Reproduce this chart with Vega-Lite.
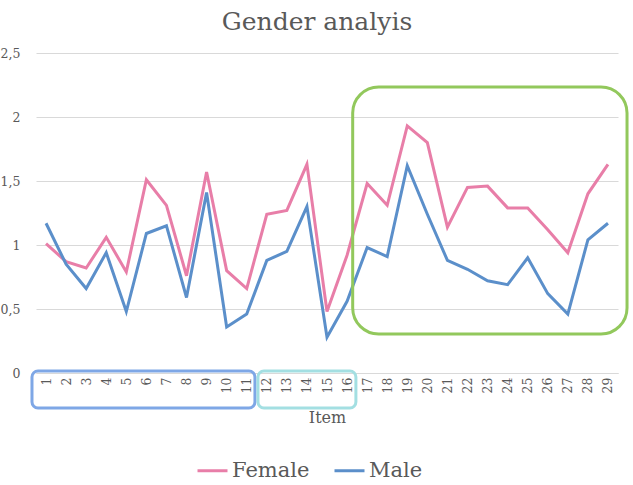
{
  "$schema": "https://vega.github.io/schema/vega-lite/v6.json",
  "width": 582,
  "height": 320,
  "autosize": "none",
  "padding": {"left": 36, "top": 53, "right": 15, "bottom": 112},
  "background": "white",
  "title": {
    "text": "Gender analyis",
    "font": "DejaVu Serif",
    "fontSize": 25,
    "fontWeight": "normal",
    "color": "#595959",
    "anchor": "middle",
    "dx": -10,
    "offset": 12
  },
  "config": {
    "view": {"stroke": null},
    "font": "DejaVu Serif"
  },
  "layer": [
    {
      "data": {
        "values": [
          {"item": 1, "gender": "Female", "value": 1.01},
          {"item": 2, "gender": "Female", "value": 0.87},
          {"item": 3, "gender": "Female", "value": 0.82},
          {"item": 4, "gender": "Female", "value": 1.06},
          {"item": 5, "gender": "Female", "value": 0.79},
          {"item": 6, "gender": "Female", "value": 1.51},
          {"item": 7, "gender": "Female", "value": 1.31},
          {"item": 8, "gender": "Female", "value": 0.76},
          {"item": 9, "gender": "Female", "value": 1.57},
          {"item": 10, "gender": "Female", "value": 0.8},
          {"item": 11, "gender": "Female", "value": 0.66},
          {"item": 12, "gender": "Female", "value": 1.24},
          {"item": 13, "gender": "Female", "value": 1.27},
          {"item": 14, "gender": "Female", "value": 1.63},
          {"item": 15, "gender": "Female", "value": 0.48},
          {"item": 16, "gender": "Female", "value": 0.92},
          {"item": 17, "gender": "Female", "value": 1.48},
          {"item": 18, "gender": "Female", "value": 1.31},
          {"item": 19, "gender": "Female", "value": 1.93},
          {"item": 20, "gender": "Female", "value": 1.8},
          {"item": 21, "gender": "Female", "value": 1.14},
          {"item": 22, "gender": "Female", "value": 1.45},
          {"item": 23, "gender": "Female", "value": 1.46},
          {"item": 24, "gender": "Female", "value": 1.29},
          {"item": 25, "gender": "Female", "value": 1.29},
          {"item": 26, "gender": "Female", "value": 1.12},
          {"item": 27, "gender": "Female", "value": 0.94},
          {"item": 28, "gender": "Female", "value": 1.4},
          {"item": 29, "gender": "Female", "value": 1.63},
          {"item": 1, "gender": "Male", "value": 1.17},
          {"item": 2, "gender": "Male", "value": 0.85},
          {"item": 3, "gender": "Male", "value": 0.66},
          {"item": 4, "gender": "Male", "value": 0.94},
          {"item": 5, "gender": "Male", "value": 0.48},
          {"item": 6, "gender": "Male", "value": 1.09},
          {"item": 7, "gender": "Male", "value": 1.15},
          {"item": 8, "gender": "Male", "value": 0.59},
          {"item": 9, "gender": "Male", "value": 1.41},
          {"item": 10, "gender": "Male", "value": 0.36},
          {"item": 11, "gender": "Male", "value": 0.46},
          {"item": 12, "gender": "Male", "value": 0.88},
          {"item": 13, "gender": "Male", "value": 0.95},
          {"item": 14, "gender": "Male", "value": 1.3},
          {"item": 15, "gender": "Male", "value": 0.28},
          {"item": 16, "gender": "Male", "value": 0.56},
          {"item": 17, "gender": "Male", "value": 0.98},
          {"item": 18, "gender": "Male", "value": 0.91},
          {"item": 19, "gender": "Male", "value": 1.62},
          {"item": 20, "gender": "Male", "value": 1.24},
          {"item": 21, "gender": "Male", "value": 0.88},
          {"item": 22, "gender": "Male", "value": 0.81},
          {"item": 23, "gender": "Male", "value": 0.72},
          {"item": 24, "gender": "Male", "value": 0.69},
          {"item": 25, "gender": "Male", "value": 0.9},
          {"item": 26, "gender": "Male", "value": 0.62},
          {"item": 27, "gender": "Male", "value": 0.46},
          {"item": 28, "gender": "Male", "value": 1.04},
          {"item": 29, "gender": "Male", "value": 1.17}
        ]
      },
      "mark": {"type": "line", "strokeWidth": 3, "strokeJoin": "miter", "clip": false},
      "encoding": {
        "x": {
          "field": "item",
          "type": "quantitative",
          "scale": {"domain": [0.5, 29.5], "nice": false, "zero": false},
          "axis": {
            "title": "Item",
            "titleFont": "DejaVu Serif",
            "titleFontSize": 16,
            "titleFontWeight": "normal",
            "titleColor": "#595959",
            "titleY": 44,
            "titleBaseline": "middle",
            "values": [1,2,3,4,5,6,7,8,9,10,11,12,13,14,15,16,17,18,19,20,21,22,23,24,25,26,27,28,29],
            "tickCount": 40,
            "format": "d",
            "labelOverlap": false,
            "labelAngle": -90,
            "labelAlign": "right",
            "labelBaseline": "middle",
            "labelFont": "DejaVu Serif",
            "labelFontSize": 12.5,
            "labelColor": "#595959",
            "labelPadding": 4,
            "ticks": false,
            "grid": false,
            "domainColor": "#d9d9d9",
            "domainWidth": 1
          }
        },
        "y": {
          "field": "value",
          "type": "quantitative",
          "scale": {"domain": [0, 2.5], "nice": false},
          "axis": {
            "title": null,
            "values": [0, 0.5, 1, 1.5, 2, 2.5],
            "labelExpr": "replace(format(datum.value, ''), '.', ',')",
            "labelFont": "DejaVu Serif",
            "labelFontSize": 12.5,
            "labelColor": "#595959",
            "labelPadding": 16,
            "ticks": false,
            "domain": false,
            "grid": true,
            "gridColor": "#d9d9d9",
            "gridWidth": 1
          }
        },
        "color": {
          "field": "gender",
          "type": "nominal",
          "scale": {"domain": ["Female", "Male"], "range": ["#e87ea8", "#5b8fca"]},
          "legend": {
            "title": null,
            "orient": "none",
            "legendX": 160,
            "legendY": 401,
            "direction": "horizontal",
            "symbolType": "stroke",
            "symbolSize": 900,
            "symbolStrokeWidth": 3,
            "labelFont": "DejaVu Serif",
            "labelFontSize": 21,
            "labelColor": "#595959",
            "labelOffset": 3,
            "columnPadding": 18
          }
        }
      }
    },
    {
      "data": {"values": [{"x": 16.28, "x2": 29.95, "y": 2.234, "y2": 0.305}]},
      "mark": {"type": "rect", "fill": null, "stroke": "#92c85c", "strokeWidth": 3, "cornerRadius": 26, "clip": false},
      "encoding": {
        "x": {"field": "x", "type": "quantitative"},
        "x2": {"field": "x2"},
        "y": {"field": "y", "type": "quantitative"},
        "y2": {"field": "y2"}
      }
    },
    {
      "data": {"values": [{"x": 0.3, "x2": 11.41, "y": 0.016, "y2": -0.273}]},
      "mark": {"type": "rect", "fill": null, "stroke": "#7ea7e6", "strokeWidth": 3, "cornerRadius": 6, "clip": false},
      "encoding": {
        "x": {"field": "x", "type": "quantitative"},
        "x2": {"field": "x2"},
        "y": {"field": "y", "type": "quantitative"},
        "y2": {"field": "y2"}
      }
    },
    {
      "data": {"values": [{"x": 11.56, "x2": 16.44, "y": 0.016, "y2": -0.273}]},
      "mark": {"type": "rect", "fill": null, "stroke": "#a3dfe2", "strokeWidth": 3, "cornerRadius": 6, "clip": false},
      "encoding": {
        "x": {"field": "x", "type": "quantitative"},
        "x2": {"field": "x2"},
        "y": {"field": "y", "type": "quantitative"},
        "y2": {"field": "y2"}
      }
    }
  ]
}
